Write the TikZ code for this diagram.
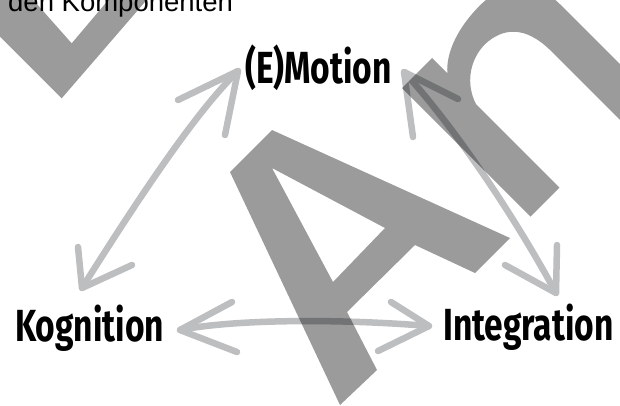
\documentclass[tikz,border=0pt]{standalone}
\usepackage{fontspec}
\setmainfont{Liberation Sans}
\newfontfamily\handfont{Fira Sans Bold}[FakeStretch=0.745]
\definecolor{markgray}{HTML}{9B9B9B}
\definecolor{linkgray}{HTML}{BDBEC0}
\tikzset{
  termlabel/.style={font=\handfont\fontsize{45}{50}\selectfont, inner sep=0pt, anchor=base west},
  arrowline/.style={draw=linkgray, line width=6.5pt, line cap=round, line join=round},
  markfill/.style={fill=markgray}
}
\begin{document}
\begin{tikzpicture}[x=1pt, y=-1pt]
\useasboundingbox (0,0) rectangle (620,405);
\clip (0,0) rectangle (620,405);

% heading line, cut at the top edge
\node[anchor=base west, inner sep=0pt, font=\fontsize{27.5}{30}\selectfont] (head) at (8,11.5) {den Komponenten};

% the three components
\node[termlabel] (emo) at (245,83) {(E)Motion};
\node[termlabel] (kog) at (15,341.5) {Kognition};
\node[termlabel] (integ) at (443,340) {Integration};

% arrow tips
\coordinate (emoL) at (238,71);
\coordinate (kogT) at (82,288);
\coordinate (kogR) at (180,330);
\coordinate (intL) at (429,326);
\coordinate (emoR) at (404,72);
\coordinate (intT) at (556,293);

% shafts
\draw[arrowline] (emoL) .. controls (200,108) and (150,180) .. (kogT);
\draw[arrowline] (kogR) .. controls (230,320) and (330,318) .. (intL);
\draw[arrowline] (emoR) .. controls (436,106) and (500,190) .. (intT);

% open heads
\draw[arrowline] (emoL) ++(-60,29) -- (emoL) -- ++(-13,64);
\draw[arrowline] (kogT) ++(-4,-41) -- (kogT) -- ++(50,-23);
\draw[arrowline] (kogR) ++(52,-28) -- (kogR) -- ++(57,22);
\draw[arrowline] (intL) ++(-38,-24) -- (intL) -- ++(-51,25);
\draw[arrowline] (emoR) ++(9,65) -- (emoR) -- ++(54,27);
\draw[arrowline] (intT) ++(1,-48) -- (intT) -- ++(-51,-28);

% large grey letters laid over the page
\begin{scope}[blend mode=multiply]
  % corner stroke at the top left
  \fill[markfill] (-10,26.7) -- (61.7,98.3) -- (155.3,-10) -- (116.8,-10)
     -- (71.7,43.3) -- (24.4,-10) -- (-10,-10) -- cycle;
  % letter A
  \fill[markfill, even odd rule]
     (272,130) -- (510,238) -- (475,273) -- (415,245) -- (347,312)
     -- (377,370) -- (340,405) -- (230,172) -- cycle
     (272,168) -- (385,228) -- (333,282) -- cycle;
  % letter n, drawn in its own tilted frame
  \begin{scope}[shift={(373.5,373.5)}, rotate=45, y=1pt]
    \fill[markfill]
      (222,0) -- (222,181.7) -- (264.5,181.7) -- (264.5,160)
      .. controls (278,176) and (305,185) .. (335,185)
      .. controls (372,185) and (393,165) .. (393,128)
      -- (393,0) -- (353.6,0) -- (353.6,102)
      .. controls (353.6,140) and (335,153) .. (312,154)
      .. controls (290,154) and (270,140) .. (263,118)
      -- (263,0) -- cycle;
  \end{scope}
\end{scope}
\end{tikzpicture}
\end{document}
